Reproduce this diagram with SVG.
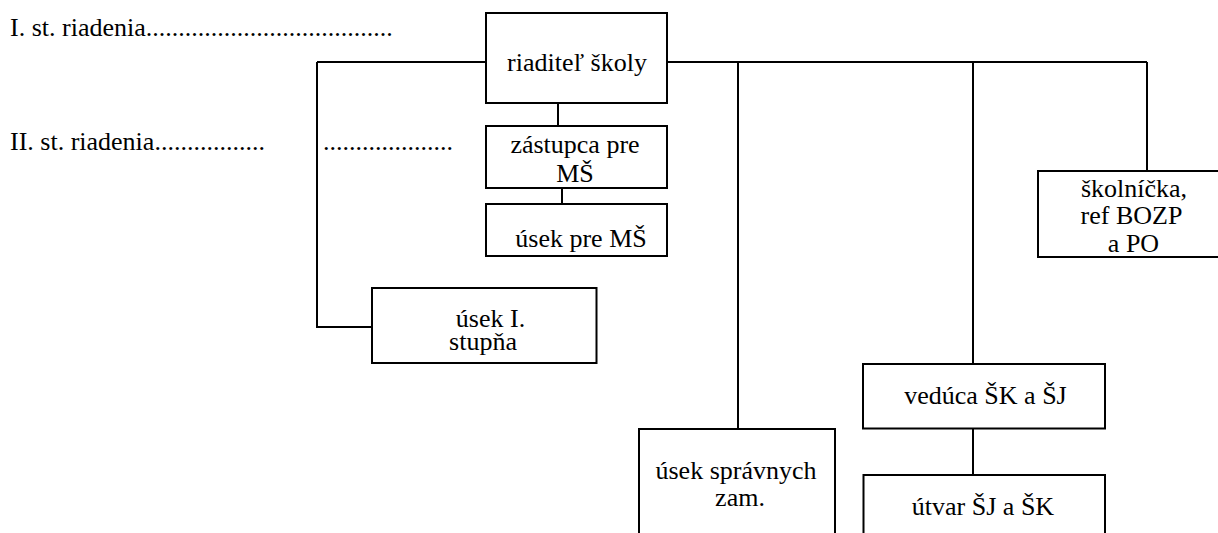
<svg xmlns="http://www.w3.org/2000/svg" width="1218" height="533" viewBox="0 0 1218 533">
<style>
.box{fill:#fff;stroke:#000;stroke-width:2}
.ln{fill:none;stroke:#000;stroke-width:2}
.t{font-family:'Liberation Serif','DejaVu Serif',serif;font-size:26px;fill:#000}
.c{text-anchor:middle}
</style>
<rect width="1218" height="533" fill="#fff"/>
<g id="labels" class="t" font-family="Liberation Serif, DejaVu Serif, serif">
<text x="10" y="36">I. st. riadenia......................................</text>
<text x="10" y="150">II. st. riadenia.................</text>
<text x="323" y="150">....................</text>
</g>
<g id="connectors">
<path class="ln" d="M317,62 H486 M667,62 H1147"/>
<path class="ln" d="M317,62 V327 H372"/>
<path class="ln" d="M558,103 V126"/>
<path class="ln" d="M562,188 V204"/>
<path class="ln" d="M738,62 V429"/>
<path class="ln" d="M973,62 V364"/>
<path class="ln" d="M1147,62 V171"/>
<path class="ln" d="M973,428.5 V475"/>
</g>
<g id="riaditel" class="t" font-family="Liberation Serif, DejaVu Serif, serif">
<rect class="box" x="486" y="13" width="181" height="90"/>
<text class="c" x="577" y="71">riaditeľ školy</text>
</g>
<g id="zastupca" class="t" font-family="Liberation Serif, DejaVu Serif, serif">
<rect class="box" x="486" y="126" width="181" height="62"/>
<text class="c" x="575" y="153">zástupca pre</text>
<text class="c" x="575" y="181.5">MŠ</text>
</g>
<g id="usek-ms" class="t" font-family="Liberation Serif, DejaVu Serif, serif">
<rect class="box" x="486" y="204" width="181" height="52"/>
<text class="c" x="581" y="246.5">úsek pre MŠ</text>
</g>
<g id="usek-1" class="t" font-family="Liberation Serif, DejaVu Serif, serif">
<rect class="box" x="372" y="288" width="224.5" height="75"/>
<text class="c" x="490.5" y="326.5">úsek I.</text>
<text class="c" x="483" y="350">stupňa</text>
</g>
<g id="skolnicka" class="t" font-family="Liberation Serif, DejaVu Serif, serif">
<rect class="box" x="1038" y="171" width="200" height="86"/>
<text class="c" x="1134" y="196.5">školníčka,</text>
<text class="c" x="1131.5" y="223.5">ref BOZP</text>
<text class="c" x="1133.5" y="251.5">a PO</text>
</g>
<g id="veduca" class="t" font-family="Liberation Serif, DejaVu Serif, serif">
<rect class="box" x="863" y="364" width="242" height="64.5"/>
<text class="c" x="985.5" y="404">vedúca ŠK a ŠJ</text>
</g>
<g id="utvar" class="t" font-family="Liberation Serif, DejaVu Serif, serif">
<rect class="box" x="863.5" y="475" width="241.5" height="100"/>
<text class="c" x="983" y="515">útvar ŠJ a ŠK</text>
</g>
<g id="usek-spravnych" class="t" font-family="Liberation Serif, DejaVu Serif, serif">
<rect class="box" x="639" y="429" width="196" height="150"/>
<text class="c" x="736" y="478.5">úsek správnych</text>
<text class="c" x="740" y="506">zam.</text>
</g>
</svg>
